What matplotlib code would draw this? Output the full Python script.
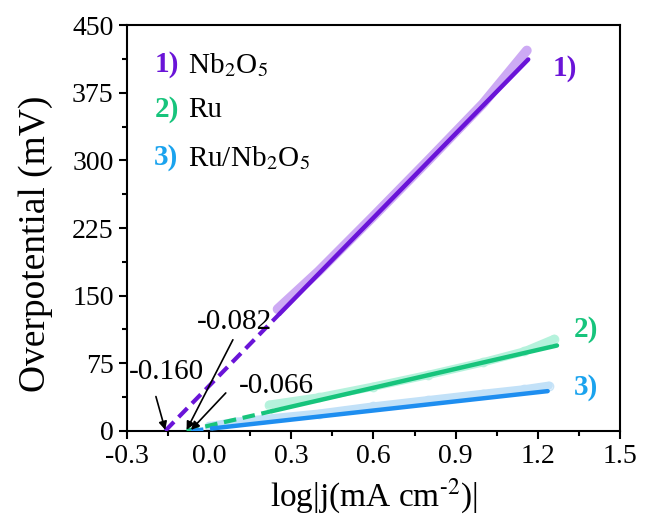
import numpy as np
import matplotlib
matplotlib.use('Agg')
import matplotlib.pyplot as plt
from matplotlib.ticker import MultipleLocator

plt.rcParams.update({
    'font.family': 'Liberation Serif',
    'mathtext.fontset': 'stix',
    'font.size': 20,
})

# measured points (log|j|, overpotential in mV)
nb_x = [0.25, 0.40, 0.60, 0.80, 1.00, 1.16]
nb_y = [135, 177, 238, 300, 363, 422]
ru_x = [0.22, 0.40, 0.60, 0.80, 1.00, 1.15, 1.26]
ru_y = [29, 37, 49, 62, 76, 88, 102]
runb_x = [0.00, 0.10, 0.20, 0.40, 0.60, 0.80, 1.00, 1.15, 1.24]
runb_y = [5, 10, 13, 19, 27, 34, 41, 46, 50]

# linear fits: x-intercept, slope (mV/dec), fitted range
intercepts = [-0.160, -0.082, -0.066]
slopes = [311, 70, 33.8]
fit_start = [0.258, 0.229, 0.014]
fit_end = [1.165, 1.27, 1.236]

names = ['Nb$_2$O$_5$', 'Ru', 'Ru/Nb$_2$O$_5$']
dark = ['#6A14D8', '#17C47C', '#1E8EF0']
light = ['#CDAAF4', '#B5F2DC', '#C2E1F8']
tag_col = ['#6A14D8', '#17C47C', '#1AA3EE']

fig = plt.figure(figsize=(6.54, 5.26), dpi=100)
ax = fig.add_axes([0.194, 0.181, 0.754, 0.771])

data = [(nb_x, nb_y), (ru_x, ru_y), (runb_x, runb_y)]
for i, (xs, ys) in enumerate(data):
    ax.plot(xs, ys, color=light[i], lw=7 if i == 0 else 6, solid_capstyle='round', zorder=2)
    if i > 0:
        ax.plot(xs, ys, 'o', color=light[i], ms=6, mfc='none', mew=1.0, alpha=0.9, zorder=2)
    x0, k = intercepts[i], slopes[i]
    xa = np.array([x0, fit_start[i]])
    ax.plot(xa, k * (xa - x0), color=dark[i], lw=3, dashes=(3, 1.6), zorder=3)
    xb = np.array([fit_start[i], fit_end[i]])
    ax.plot(xb, k * (xb - x0), color=dark[i], lw=3.2, solid_capstyle='round', zorder=3)

# intercept annotations
ann = [('-0.160', (-0.155, 65), (-0.194, 38)),
       ('-0.082', (0.094, 121), (0.087, 101)),
       ('-0.066', (0.245, 50), (0.061, 42))]
for (txt, tpos, tail), x0 in zip(ann, intercepts):
    ax.text(tpos[0], tpos[1], txt, ha='center', va='center', fontsize=21)
    ax.annotate('', xy=(x0, 1), xytext=tail,
                arrowprops=dict(arrowstyle='-|>', color='black', lw=1.2,
                                mutation_scale=12, shrinkA=0, shrinkB=0))

# legend entries
leg_y = [406, 356, 303]
for i in range(3):
    ax.text(-0.2, leg_y[i], '%d)' % (i + 1), color=tag_col[i], fontweight='bold',
            ha='left', va='center', fontsize=21)
    ax.text(-0.078, leg_y[i], names[i], color='black', ha='left', va='center', fontsize=21)

# curve tags at line ends
tag_pos = [(1.255, 402), (1.33, 112), (1.33, 48)]
for i, (tx, ty) in enumerate(tag_pos):
    ax.text(tx, ty, '%d)' % (i + 1), color=tag_col[i], fontweight='bold',
            ha='left', va='center', fontsize=21)

ax.set_xlim(-0.3, 1.5)
ax.set_ylim(0, 450)
ax.xaxis.set_major_locator(MultipleLocator(0.3))
ax.xaxis.set_minor_locator(MultipleLocator(0.15))
ax.yaxis.set_major_locator(MultipleLocator(75))
ax.yaxis.set_minor_locator(MultipleLocator(37.5))
ax.xaxis.set_major_formatter(plt.FuncFormatter(lambda v, p: '%.1f' % v))
ax.tick_params(which='major', direction='out', length=6, width=1.5, labelsize=20)
ax.tick_params(which='minor', direction='out', length=3.5, width=1.5)
for s in ax.spines.values():
    s.set_linewidth(1.5)

ax.set_xlabel(r'log|j(mA cm$^{\text{-2}}$)|', fontsize=24, labelpad=6)
ax.set_ylabel('Overpotential (mV)', fontsize=27, labelpad=14)
ax.yaxis.label.set_y(0.46)

fig.savefig('out.png', dpi=100)
